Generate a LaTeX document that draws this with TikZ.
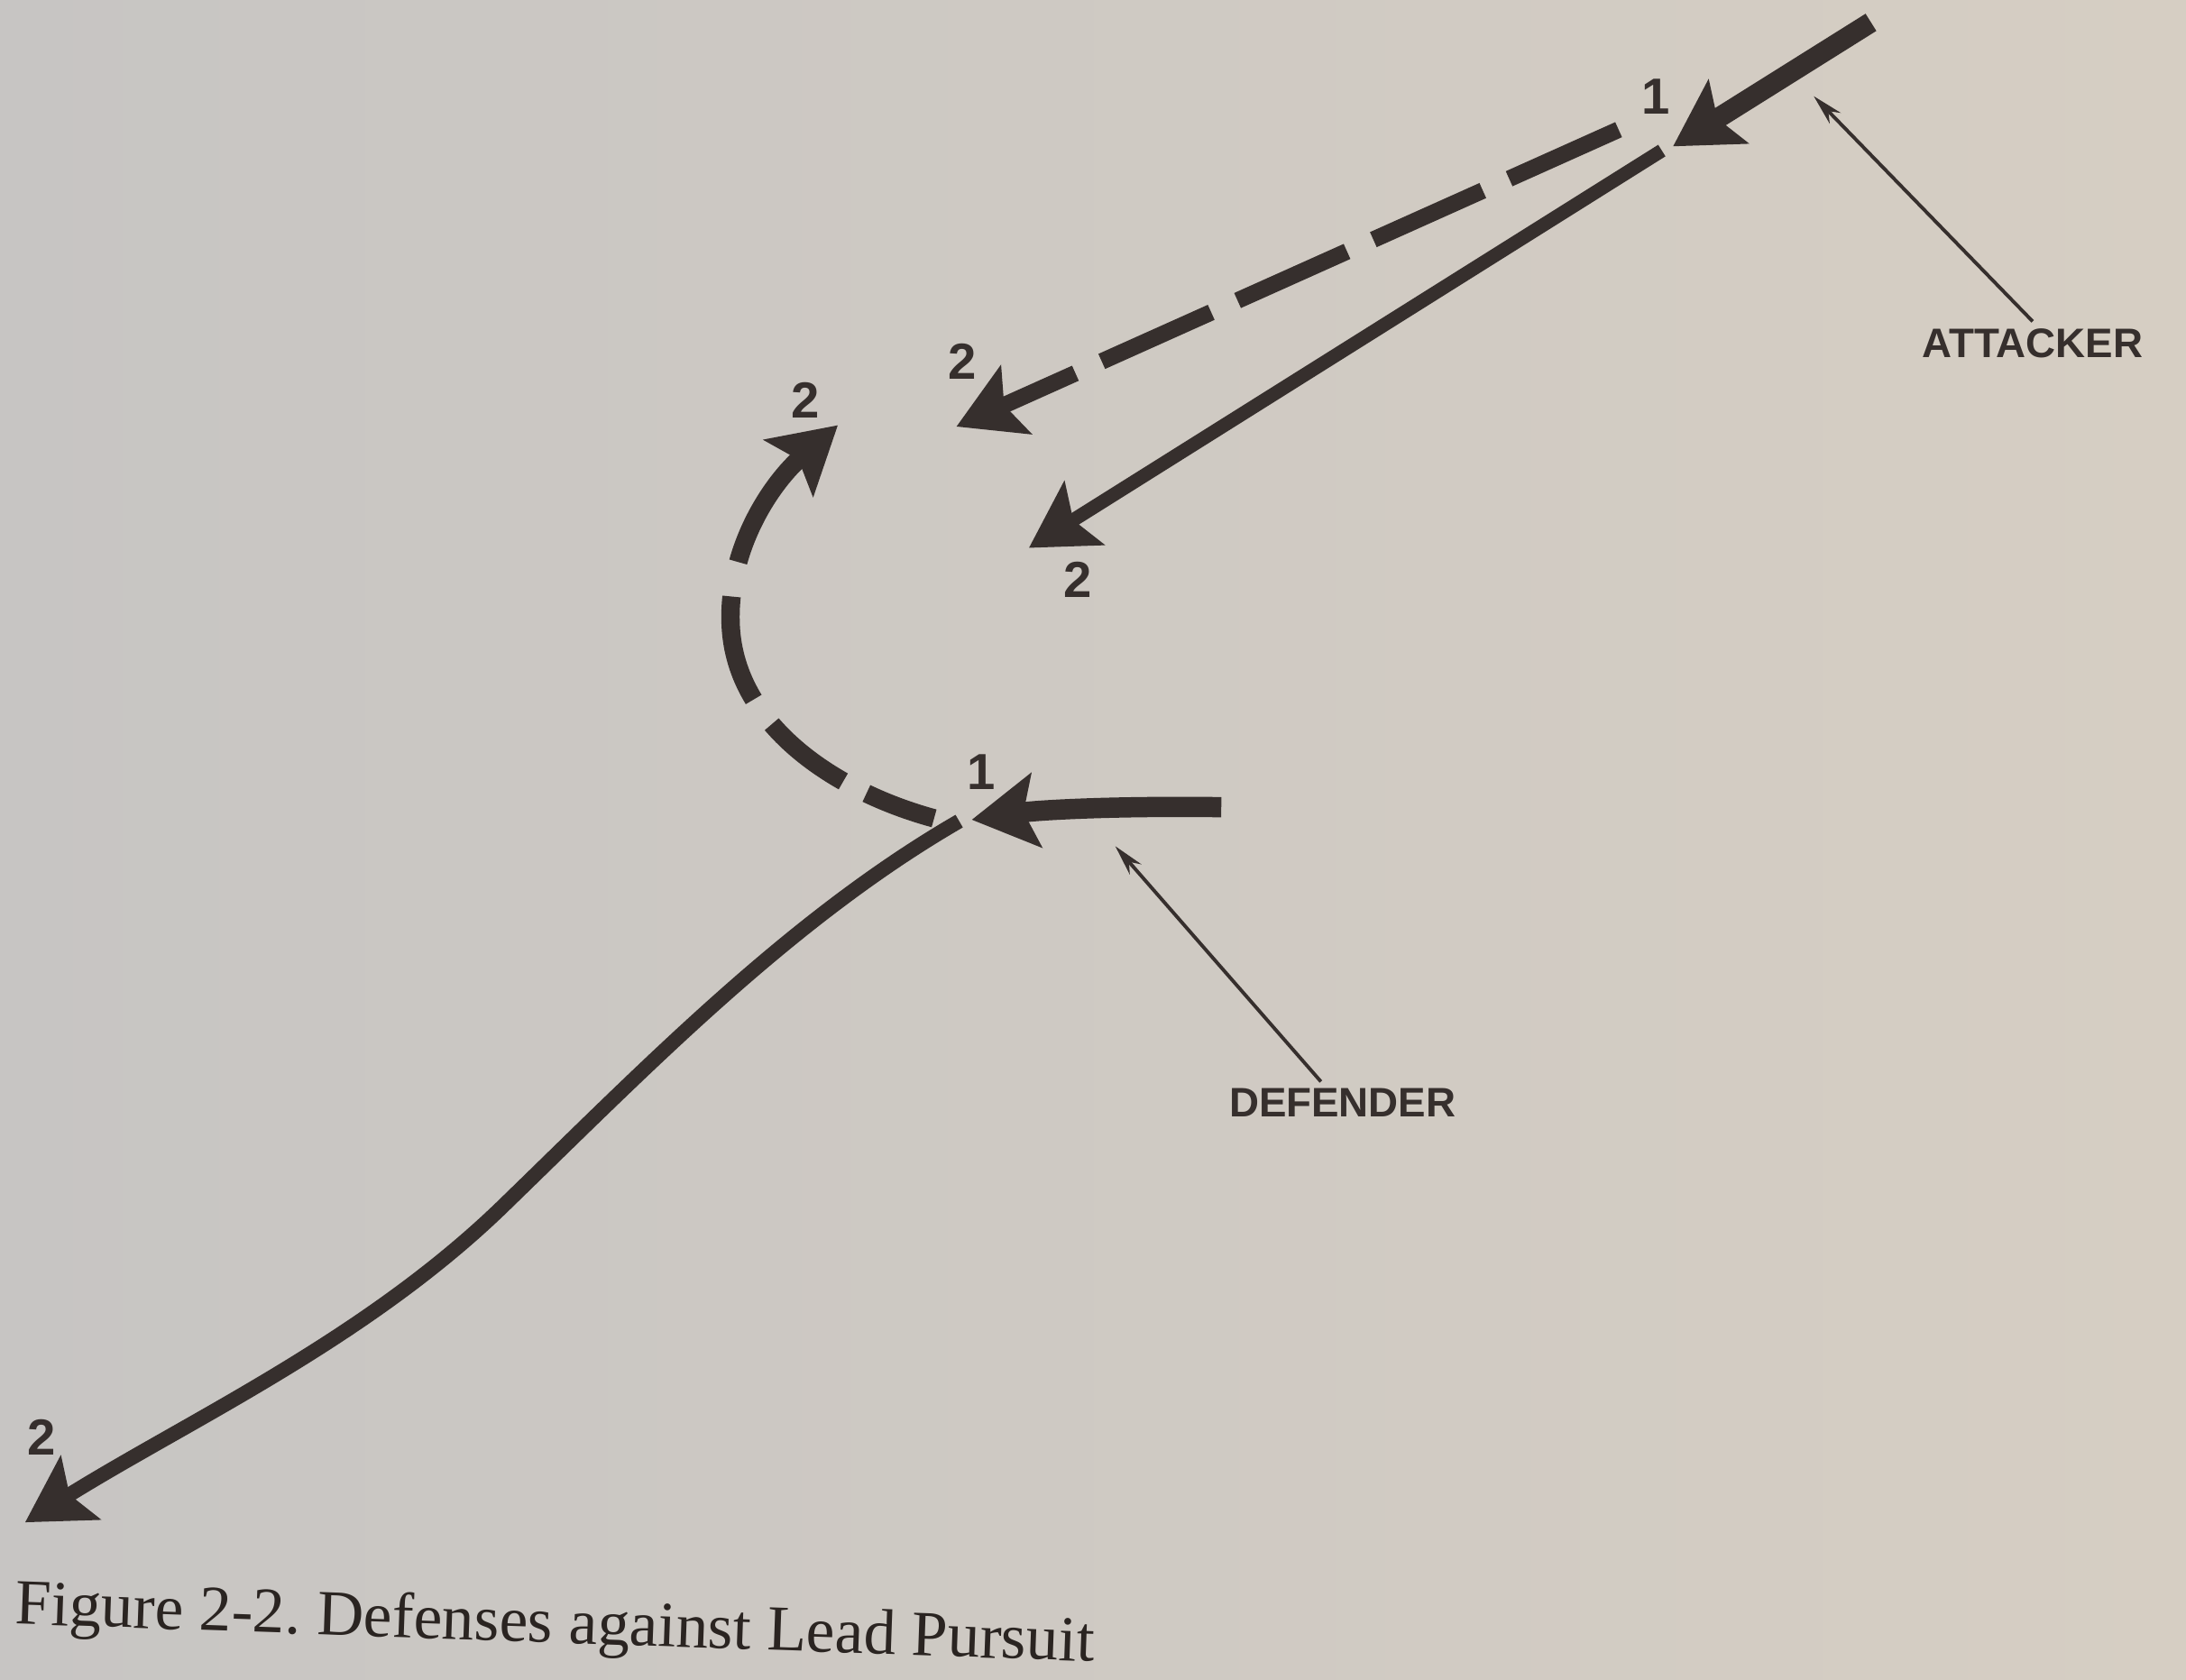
\documentclass[tikz,border=0pt]{standalone}
\usepackage{fontspec}
\setmainfont{Liberation Serif}
\newfontfamily\policeSchema{Liberation Sans}
\usepackage{xcolor}
\definecolor{papierGauche}{HTML}{C7C5C3}
\definecolor{papierDroite}{HTML}{D6CEC3}
\definecolor{encre}{HTML}{362F2D}
\definecolor{encreLegende}{HTML}{2A2421}
\usetikzlibrary{arrows.meta}
\tikzset{
  %% ── Trajectoires ─────────────────────────────────────────────────────
  %% Every path ends in the same heavy head; only the shaft changes.
  trajet/.style       = {draw=encre, line cap=butt,
                         -{Stealth[length=7.2mm, width=8.2mm, inset=1.4mm]}},
  trajetFort/.style   = {trajet, line width=6.4pt},
  trajetMoyen/.style  = {trajet, line width=4.6pt},
  trajetFin/.style    = {trajet, line width=4.3pt},
  trajetTiret/.style  = {trajet, line width=5.2pt,
                         dash pattern=on 13.3mm off 3.2mm},
  %% the loop's dashes grow as it turns, and the last one runs into the head
  trajetBoucle/.style = {trajet, line width=5.8pt,
                         dash pattern=on 8.0mm off 2.9mm on 10.2mm off 3.4mm
                                      on 11.9mm off 3.9mm on 60mm off 1mm},
  %%
  %% ── Renvois ──────────────────────────────────────────────────────────
  renvoi/.style       = {draw=encre, line width=1.1pt,
                         -{Stealth[length=3.4mm, width=1.7mm]}},
  %%
  %% ── Texte ────────────────────────────────────────────────────────────
  chiffre/.style      = {font=\policeSchema\bfseries\fontsize{16}{16}\selectfont,
                         text=encre, inner sep=0pt},
  etiquette/.style    = {font=\policeSchema\bfseries\fontsize{13}{13}\selectfont,
                         text=encre, inner sep=2pt},
  legende/.style      = {font=\fontsize{20.3}{20.3}\selectfont, text=encreLegende,
                         inner sep=0pt},
}

\begin{document}
\begin{tikzpicture}[x=0.015459cm, y=-0.015459cm]

\useasboundingbox (0,0) rectangle (1568,1205);
\shade[left color=papierGauche, right color=papierDroite] (0,0) rectangle (1568,1205);

%% path ends
\coordinate (attDepart) at (1342,16);
\coordinate (attPos1)   at (1200,105);
\coordinate (tirDepart) at (1161,93);
\coordinate (tirPos2)   at (686,306);
\coordinate (linDepart) at (1192,108);
\coordinate (linPos2)   at (738,393);
\coordinate (defDepart) at (876,579);
\coordinate (defPos1)   at (697,588);
\coordinate (bclDepart) at (670,587);
\coordinate (bclGauche) at (524,445);
\coordinate (bclPos2)   at (601,305);
\coordinate (fuiDepart) at (688,589);
\coordinate (fuiMilieu) at (363,863);
\coordinate (fuiPos2)   at (18,1092);
\coordinate (attVise)   at (1301,69);
\coordinate (defVise)   at (800,607);

%% attacker
\draw[trajetFort]  (attDepart) -- (attPos1);
\draw[trajetTiret] (tirDepart) -- (tirPos2);
\draw[trajetFin]   (linDepart) -- (linPos2);

%% defender
\draw[trajetFort]   (defDepart) .. controls (800,578) and (745,581) .. (defPos1);
\draw[trajetBoucle] (bclDepart) .. controls (600,568) and (525,520) .. (bclGauche)
                    .. controls (523,390) and (555,345) .. (bclPos2);
\draw[trajetMoyen]  (fuiDepart) .. controls (567,659) and (464,765) .. (fuiMilieu)
                    .. controls (264,960) and (135,1019) .. (fuiPos2);

%% positions
\node[chiffre] (att1)  at (1188,69)  {1};
\node[chiffre] (tir2)  at (690,259)  {2};
\node[chiffre] (lin2)  at (773,416)  {2};
\node[chiffre] (def1)  at (704,554)  {1};
\node[chiffre] (bcl2)  at (578,287)  {2};
\node[chiffre] (fui2)  at (30,1031)  {2};

\node[etiquette] (attaquant) at (1458,246) {ATTACKER};
\node[etiquette] (defenseur) at (963,791)  {DEFENDER};
\draw[renvoi] (attaquant.north) -- (attVise);
\draw[renvoi] ([xshift=-2.4mm]defenseur.north) -- (defVise);

\node[legende, rotate=-2] (titre) at (398,1167)
     {Figure 2-2.\ Defenses against Lead Pursuit};

\end{tikzpicture}
\end{document}
